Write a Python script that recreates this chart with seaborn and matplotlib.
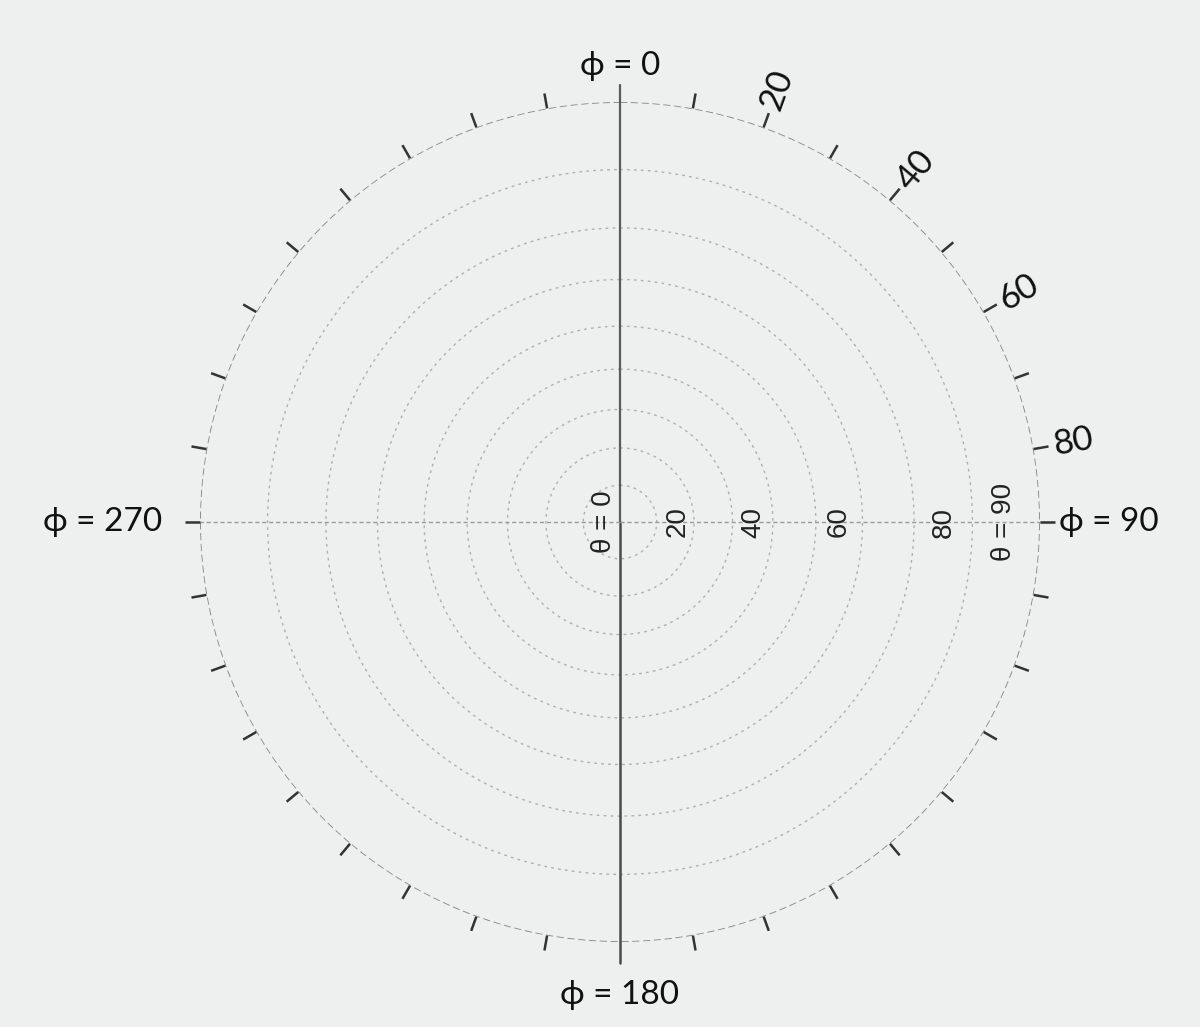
import numpy as np
import pandas as pd
import matplotlib.pyplot as plt
import seaborn as sns

# polar-angle rings (theta, degrees), stereographic radius r = tan(theta/2)
theta_rings = [10, 20, 30, 40, 50, 60, 70, 80]
theta_outer = 90
theta_labels = [0, 20, 40, 60, 80, 90]

# azimuth ticks around the rim (phi, degrees)
phi_ticks = list(range(0, 360, 10))
phi_tick_labels = [20, 40, 60, 80]
phi_axis = [0, 90, 180, 270]
phi_axis_text = ["\u03d5 = 0", "\u03d5 = 90", "\u03d5 = 180", "\u03d5 = 270"]

sns.set_theme(style="white")
plt.rcParams["font.family"] = ["Lato", "DejaVu Sans"]

bg = "#eeefef"
fig = plt.figure(figsize=(12, 10.27), dpi=100, facecolor=bg)
ax = fig.add_axes([200 / 1200, 85 / 1027, 840 / 1200, 840 / 1027], projection="polar")
ax.set_theta_zero_location("N")
ax.set_theta_direction(-1)
ax.set_axis_off()
ax.set_ylim(0, 1)


def stereo(t):
    return np.tan(np.radians(t) / 2)


# rings
angles = np.linspace(0, 2 * np.pi, 721)
rings = pd.concat(
    [pd.DataFrame({"phi": angles, "r": stereo(t), "ring": t}) for t in theta_rings]
)
sns.lineplot(data=rings, x="phi", y="r", units="ring", estimator=None, sort=False,
             color="#b0b0b0", lw=1.0, ls=(0, (2, 3)), ax=ax, legend=False)
outer = pd.DataFrame({"phi": angles, "r": stereo(theta_outer)})
sns.lineplot(data=outer, x="phi", y="r", estimator=None, sort=False,
             color="#8a8a8a", lw=1.3, ls=(0, (4, 2)), ax=ax, legend=False)

# axes lines
ax.plot([0, 0], [0, 1.04], color="#5a5a5a", lw=1.6, clip_on=False)
ax.plot([np.pi, np.pi], [0, 1.05], color="#4a4a4a", lw=1.8, clip_on=False)
ax.plot([np.pi / 2, np.pi / 2], [0, 1.03], color="#9a9a9a", lw=1.0,
        ls=(0, (3, 2)), clip_on=False)
ax.plot([3 * np.pi / 2, 3 * np.pi / 2], [0, 1.0], color="#9a9a9a", lw=1.0,
        ls=(0, (3, 2)), clip_on=False)

# rim ticks
for p in phi_ticks:
    if p in (0, 180):
        continue
    a = np.radians(p)
    ax.plot([a, a], [1.0, 1.036], color="#333333", lw=1.8, clip_on=False,
            solid_capstyle="butt")

# rim tick labels
for p in phi_tick_labels:
    ax.text(np.radians(p), 1.095, str(p), rotation=90 - p, rotation_mode="anchor",
            ha="center", va="center", fontsize=25, color="#111111")

# phi axis labels
ax.text(0, 1.05, phi_axis_text[0], ha="center", va="bottom", fontsize=24, color="#111111")
ax.text(np.pi / 2, 1.045, phi_axis_text[1], ha="left", va="center", fontsize=24, color="#111111")
ax.text(np.pi, 1.09, phi_axis_text[2], ha="center", va="top", fontsize=24, color="#111111")
ax.text(3 * np.pi / 2, 1.09, phi_axis_text[3], ha="right", va="center", fontsize=24, color="#111111")

# theta labels along the phi = 90 axis
for t in theta_labels:
    if t == 0:
        txt, ang, r = "\u03b8 = 0", 3 * np.pi / 2, 0.008
    elif t == 90:
        txt, ang, r = "\u03b8 = 90", np.pi / 2, stereo(t) * 0.945
    else:
        txt, ang, r = str(t), np.pi / 2, stereo(t) * 0.955
    ax.text(ang, r, txt, rotation=90, ha="right", va="center", fontsize=20,
            color="#222222", family=["Liberation Sans", "DejaVu Sans"])

fig.savefig("out.png", dpi=100, facecolor=bg)
